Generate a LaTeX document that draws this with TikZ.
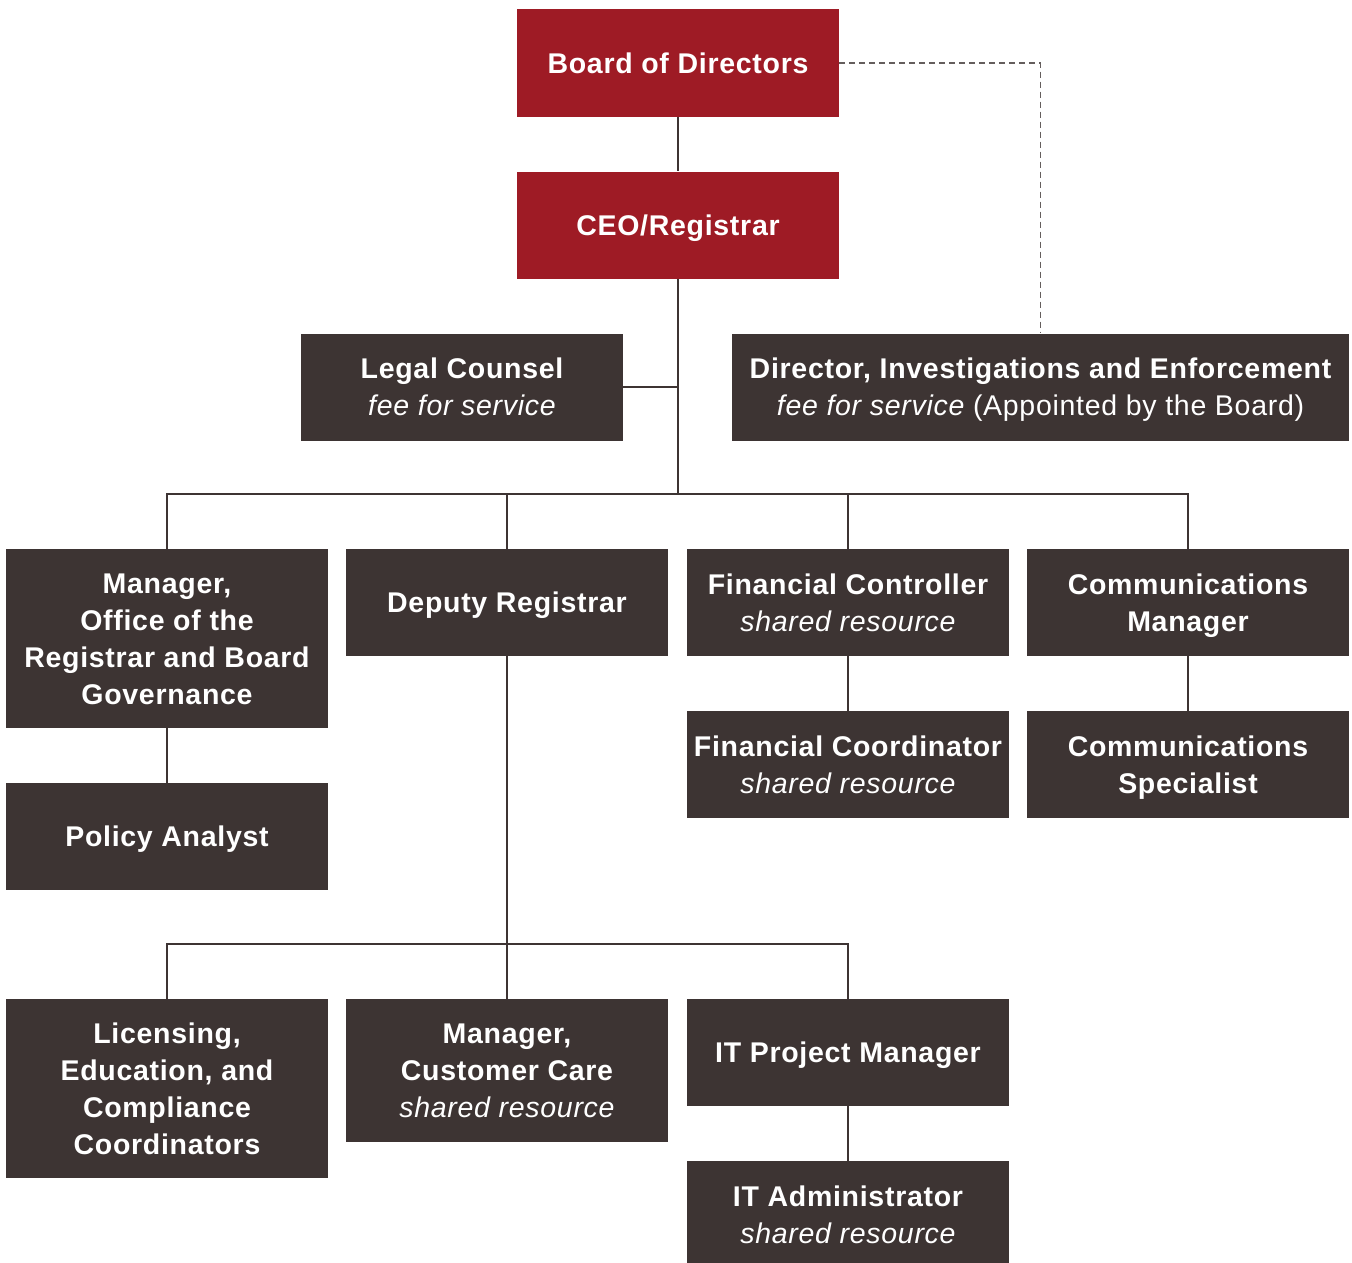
\documentclass[tikz,border=0pt]{standalone}
\usepackage{fontspec}
\setmainfont[LetterSpace=2.5]{Liberation Sans}
\usetikzlibrary{positioning}
\definecolor{boardred}{RGB}{158,27,37}
\definecolor{staffdark}{RGB}{61,52,51}
\newcommand{\sharedres}{{\mdseries\itshape shared resource}}
\newcommand{\feeserv}{{\mdseries\itshape fee for service}}
\newcommand{\headstrut}{\rule{0pt}{28pt}}

\tikzset{
  box base/.style={fill=staffdark, text=white, minimum width=322pt,
               minimum height=107pt, inner sep=0pt, align=center,
               font=\fontsize{28.5}{37}\selectfont\bfseries,
               execute at end node={\rule[-7.6pt]{0pt}{7.6pt}}},
  unit/.style={box base, execute at begin node={\rule{0pt}{28pt}}},
  stack/.style={box base},
  board/.style={unit, fill=boardred},
  link/.style={line width=1.5pt, draw=staffdark},
  dotted link/.style={line width=1.2pt, draw=staffdark!80,
                      dash pattern=on 6pt off 4pt},
}

\begin{document}
\begin{tikzpicture}[x=1pt, y=-1pt]
  \useasboundingbox (0,0) rectangle (1352,1263);

  % top of the chart
  \node[board] (board) at (678,63) {Board of Directors};
  \node[board] (ceo) at (678,225) {CEO/Registrar};
  \node[stack] (legal) at (462,387) {\headstrut Legal Counsel\\ \feeserv};
  \node[stack, minimum width=617pt] (director) at (1040.5,387)
    {\headstrut Director, Investigations and Enforcement\\
     {\mdseries\itshape fee for service}{\mdseries{} (Appointed by the Board)}};

  % second level
  \node[stack, minimum height=179pt] (mgroffice) at (167,638.5)
    {\headstrut Manager,\\ Office of the\\ Registrar and Board\\ Governance};
  \node[unit] (deputy) at (507,602.5) {Deputy Registrar};
  \node[stack] (fincontrol) at (848,602.5)
    {\headstrut Financial Controller\\ \sharedres};
  \node[stack] (commsmgr) at (1188,602.5)
    {\headstrut Communications\\ Manager};

  \node[unit] (policy) at (167,836.5) {Policy Analyst};
  \node[stack] (fincoord) at (848,764.5)
    {\headstrut Financial Coordinator\\ \sharedres};
  \node[stack] (commsspec) at (1188,764.5)
    {\headstrut Communications\\ Specialist};

  % under the deputy registrar
  \node[stack, minimum height=179pt] (licensing) at (167,1088.5)
    {\headstrut Licensing,\\ Education, and\\ Compliance\\ Coordinators};
  \node[stack, minimum height=143pt] (custcare) at (507,1070.5)
    {\headstrut Manager,\\ Customer Care\\ \sharedres};
  \node[unit] (itpm) at (848,1052.5) {IT Project Manager};
  \node[stack] (itadmin) at (848,1214.5)
    {\headstrut IT Administrator\\ \sharedres};

  \coordinate (bus1) at (678,494);
  \coordinate (bus2) at (507,944);

  % connectors
  \draw[link] (board) -- (ceo);
  \draw[link] (ceo) -- (bus1);
  \draw[link] (legal.east) -- (legal.east -| bus1);
  \draw[link] (mgroffice.north) |- (bus1) -| (commsmgr.north);
  \draw[link] (deputy.north) -- (deputy.north |- bus1);
  \draw[link] (fincontrol.north) -- (fincontrol.north |- bus1);
  \draw[dotted link] (board.east) -| (director.north);

  \draw[link] (mgroffice) -- (policy);
  \draw[link] (fincontrol) -- (fincoord);
  \draw[link] (commsmgr) -- (commsspec);

  \draw[link] (deputy) -- (bus2);
  \draw[link] (licensing.north) |- (bus2) -| (itpm.north);
  \draw[link] (custcare) -- (bus2);
  \draw[link] (itpm) -- (itadmin);
\end{tikzpicture}
\end{document}
